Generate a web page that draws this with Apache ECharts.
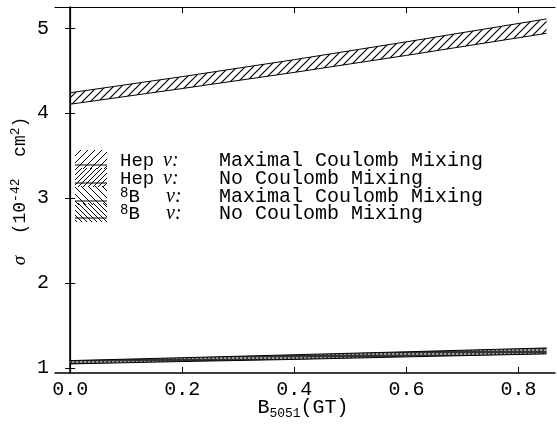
<!DOCTYPE html>
<html>
<head>
<meta charset="utf-8">
<script src="https://cdn.jsdelivr.net/npm/echarts@6/dist/echarts.min.js"></script>
<style>
html, body { margin: 0; padding: 0; background: #fff; }
#box { width: 557px; height: 424px; }
</style>
</head>
<body>
<div id="box"></div>
<script>
// B5051(GT) values where the bands were read
var xVals = [0.0, 0.2, 0.4, 0.6, 0.85];
// Hep band (10^-42 cm^2)
var hepLow  = [4.105, 4.29, 4.48, 4.68, 4.94];
var hepHigh = [4.24, 4.43, 4.63, 4.84, 5.11];
// 8B band
var b8Low  = [1.047, 1.075, 1.10, 1.13, 1.165];
var b8High = [1.086, 1.12, 1.155, 1.19, 1.235];
// ticks
var xTicks = [0.0, 0.2, 0.4, 0.6, 0.8];
var yTicks = [1, 2, 3, 4, 5];
// legend
var legendSrc = ['Hep', 'Hep', '8B', '8B'];
var legendText = ['Maximal Coulomb Mixing', 'No Coulomb Mixing', 'Maximal Coulomb Mixing', 'No Coulomb Mixing'];

function hatch(size, dir, lw, color, bg) {
    var c = document.createElement('canvas');
    c.width = size; c.height = size;
    var g = c.getContext('2d');
    if (bg) { g.fillStyle = bg; g.fillRect(0, 0, size, size); }
    g.strokeStyle = color;
    g.lineWidth = lw;
    g.beginPath();
    if (dir === '/') {
        g.moveTo(-1, size + 1); g.lineTo(size + 1, -1);
        g.moveTo(-1, 1); g.lineTo(1, -1);
        g.moveTo(size - 1, size + 1); g.lineTo(size + 1, size - 1);
    } else if (dir === '\\') {
        g.moveTo(-1, -1); g.lineTo(size + 1, size + 1);
        g.moveTo(size - 1, -1); g.lineTo(size + 1, 1);
        g.moveTo(-1, size - 1); g.lineTo(1, size + 1);
    } else {
        g.moveTo(0, size / 2); g.lineTo(size * 0.6, size / 2);
    }
    g.stroke();
    return c;
}

var hepPat = { image: hatch(8, '/', 1.2, '#000'), repeat: 'repeat' };
var b8Pat = { image: hatch(4, '-', 1, '#fff', '#333'), repeat: 'repeat' };

// band drawn as one polygon through the axis scales
function bandSeries(lo, hi, pat) {
    return {
        type: 'custom',
        data: xVals.map(function (x, i) { return [x, lo[i], hi[i]]; }),
        renderItem: function (params, api) {
            if (params.dataIndex !== 0) return;
            var top = [], bot = [];
            for (var i = 0; i < xVals.length; i++) {
                top.push(api.coord([xVals[i], hi[i]]));
                bot.push(api.coord([xVals[i], lo[i]]));
            }
            return {
                type: 'group',
                children: [{
                    type: 'polygon',
                    shape: { points: top.concat(bot.slice().reverse()) },
                    style: { fill: pat, stroke: null }
                }, {
                    type: 'polyline', shape: { points: top },
                    style: { fill: null, stroke: '#000', lineWidth: 1 }
                }, {
                    type: 'polyline', shape: { points: bot },
                    style: { fill: null, stroke: '#000', lineWidth: 1 }
                }]
            };
        },
        encode: { x: 0, y: [1, 2] },
        silent: true
    };
}

var myChart = echarts.init(document.getElementById('box'));
var mono = 'Liberation Mono';

var legendGraphics = [];
var rowY = [161, 179, 197, 214];
var swatchPats = [
    hatch(7, '/', 1, '#000'), hatch(5, '/', 1, '#000'),
    hatch(7, '\\', 1, '#000'), hatch(5, '\\', 1, '#000')
];
rowY.forEach(function (y, i) {
    legendGraphics.push({
        type: 'rect',
        shape: { x: 75, y: y - 11, width: 32, height: 19 },
        style: { fill: { image: swatchPats[i], repeat: 'repeat' }, stroke: null }
    });
    legendGraphics.push({
        type: 'line',
        shape: { x1: 75, y1: y + 4, x2: 107, y2: y + 4 },
        style: { stroke: '#000', lineWidth: 1 }
    });
    var src = legendSrc[i] === '8B' ? '{sup|8}{t|B}' : '{t|Hep}';
    legendGraphics.push({
        type: 'text', x: 120, y: y,
        style: {
            text: src, textVerticalAlign: 'middle',
            rich: {
                t: { fontFamily: mono, fontSize: 19, lineHeight: 22, fill: '#000' },
                sup: { fontFamily: mono, fontSize: 14, lineHeight: 14, verticalAlign: 'top', fill: '#000' }
            }
        }
    });
    legendGraphics.push({
        type: 'text', x: i < 2 ? 163 : 166, y: y,
        style: { text: 'ν:', textVerticalAlign: 'middle', fontFamily: 'Liberation Serif', fontStyle: 'italic', fontSize: 20, fill: '#000' }
    });
    legendGraphics.push({
        type: 'text', x: 219, y: y,
        style: { text: legendText[i], textVerticalAlign: 'middle', fontFamily: mono, fontSize: 20, fill: '#000' }
    });
});

var option = {
    animation: false,
    backgroundColor: '#fff',
    grid: { left: 55, right: 2, top: 7, bottom: 51 },
    xAxis: [{
        type: 'value', min: -0.027, max: 0.865, position: 'bottom',
        axisLine: { lineStyle: { color: '#000', width: 1.5 } },
        axisTick: { inside: true, length: 6, customValues: xTicks, lineStyle: { color: '#000' } },
        axisLabel: { customValues: xTicks, margin: 7, color: '#000', fontFamily: mono, fontSize: 20,
            formatter: function (v) { return v.toFixed(1); } },
        splitLine: { show: false }
    }, {
        type: 'value', min: -0.027, max: 0.865, position: 'top',
        axisLine: { lineStyle: { color: '#000', width: 1.2 } },
        axisTick: { inside: true, length: 6, customValues: xTicks, lineStyle: { color: '#000' } },
        axisLabel: { show: false },
        splitLine: { show: false }
    }],
    yAxis: [{
        type: 'value', min: 0.94, max: 5.25, position: 'left',
        axisLine: { show: true, lineStyle: { color: '#000', width: 1.5 } },
        axisTick: { show: true, inside: true, length: 5, customValues: yTicks, lineStyle: { color: '#000' } },
        axisLabel: { customValues: yTicks, margin: 6, color: '#000', fontFamily: mono, fontSize: 20 },
        splitLine: { show: false }
    }, {
        type: 'value', min: 0.94, max: 5.25, position: 'right',
        axisLine: { show: true, lineStyle: { color: '#000', width: 1.2 } },
        axisTick: { show: true, inside: true, length: 5, customValues: yTicks, lineStyle: { color: '#000' } },
        axisLabel: { show: false },
        splitLine: { show: false }
    }],
    series: [
        bandSeries(hepLow, hepHigh, hepPat),
        bandSeries(b8Low, b8High, b8Pat)
    ],
    graphic: legendGraphics.concat([
        {
            type: 'text', x: 303, y: 408,
            style: {
                text: '{t|B}{sub|5051}{t|(GT)}', textAlign: 'center', textVerticalAlign: 'middle',
                rich: {
                    t: { fontFamily: mono, fontSize: 20, lineHeight: 24, fill: '#000' },
                    sub: { fontFamily: mono, fontSize: 13, lineHeight: 13, verticalAlign: 'bottom', fill: '#000' }
                }
            }
        },
        {
            type: 'text', x: 20, y: 191, rotation: Math.PI / 2,
            style: {
                text: '{g|σ}{t|  (10}{sup|-42}{t|  cm}{sup|2}{t|)}', textAlign: 'center', textVerticalAlign: 'middle',
                rich: {
                    g: { fontFamily: 'Liberation Serif', fontStyle: 'italic', fontSize: 19, lineHeight: 22, fill: '#000' },
                    t: { fontFamily: mono, fontSize: 18, lineHeight: 22, fill: '#000' },
                    sup: { fontFamily: mono, fontSize: 13, lineHeight: 13, verticalAlign: 'top', fill: '#000' }
                }
            }
        }
    ])
};

if (option && typeof option === 'object') {
    myChart.setOption(option, true);
}
</script>
</body>
</html>
